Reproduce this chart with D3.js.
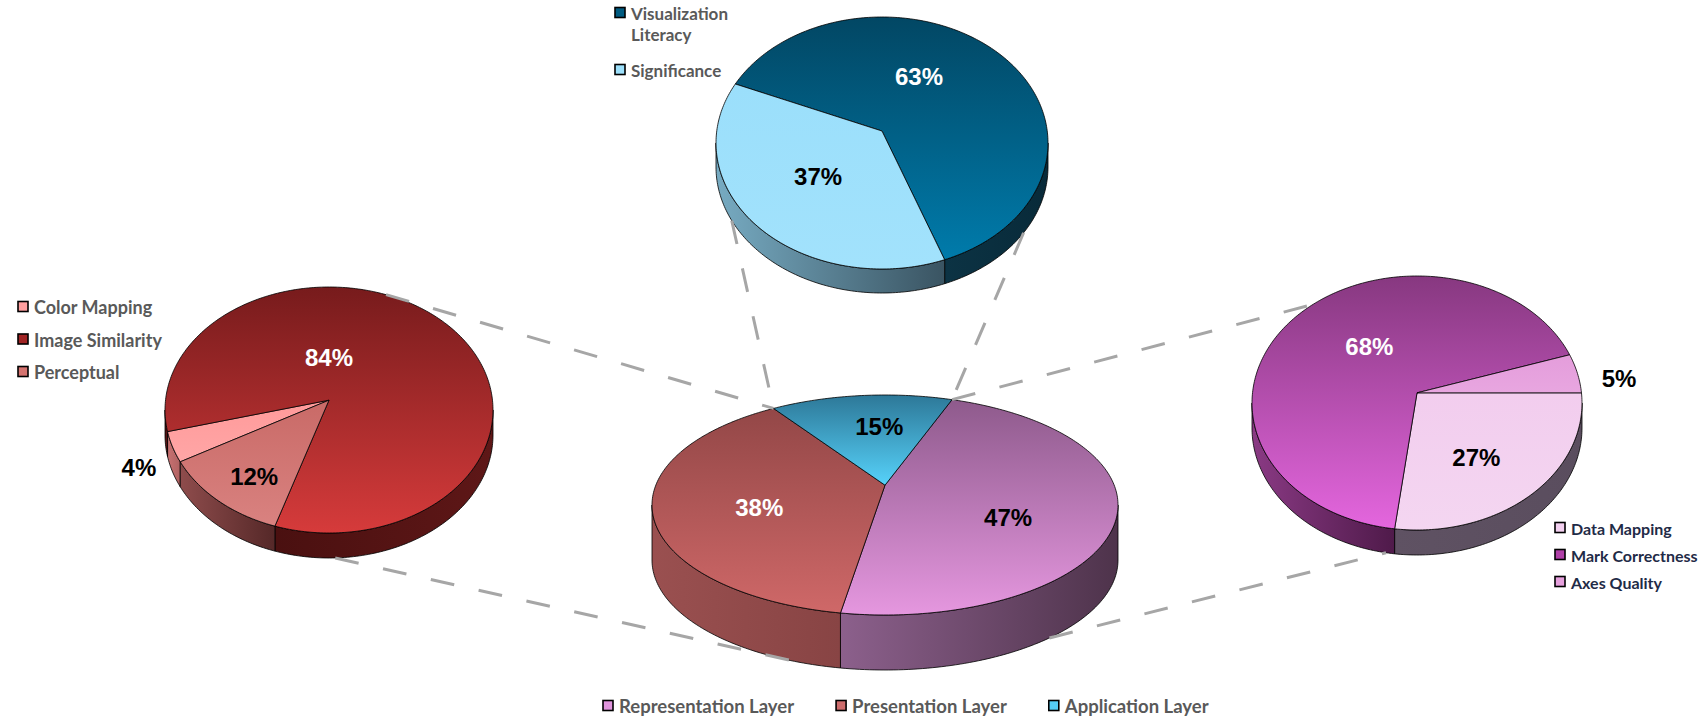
<!DOCTYPE html>
<html>
<head>
<meta charset="utf-8">
<script src="https://cdn.jsdelivr.net/npm/d3@7"></script>
<style>
  body { margin: 0; background: #fff; }
  svg { display: block; }
</style>
</head>
<body>
<div id="chart"></div>
<script>
// ---- data ----
const layerNames = ["Representation Layer", "Presentation Layer", "Application Layer"];
const layerValues = [47, 38, 15];

const presentationNames = ["Color Mapping", "Image Similarity", "Perceptual"];
const presentationValues = [4, 84, 12];

const applicationNames = ["Visualization Literacy", "Significance"];
const applicationValues = [63, 37];

const representationNames = ["Data Mapping", "Mark Correctness", "Axes Quality"];
const representationValues = [27, 68, 5];

// ---- layout ----
const W = 1706, H = 724;
const rad = d => d * Math.PI / 180;
const fmt = d3.format(".0%");

const svg = d3.select("#chart").append("svg")
    .attr("width", W)
    .attr("height", H);
const defs = svg.append("defs");

// e = perspective skew (apex sits above the ellipse centre), angles clockwise from 12 o'clock
const pies = {
  presentation: {
    names: presentationNames, values: presentationValues,
    cx: 329, cy: 410, rx: 164, ry: 123, depth: 25, e: -0.08, start: 241,
    top: [["#ff9a9a", "#ffa6a6"], ["#771b1c", "#d63b3b"], ["#c96a67", "#d98280"]],
    side: [["#c87272", "#b06262"], ["#4a1010", "#5e1717"], ["#8e4c4c", "#552828"]],
    swatch: ["#ff9f9f", "#a02424", "#d4736f"],
    labelColor: ["#000", "#fff", "#000"],
    labelAt: [[248, 1.25], [0, 0.43], [220, 0.71]]
  },
  application: {
    names: applicationNames, values: applicationValues,
    cx: 882, cy: 143, rx: 166, ry: 126, depth: 24, e: -0.095, start: 293,
    top: [["#024764", "#007bab"], ["#9bdffb", "#a2e2fc"]],
    side: [["#0c3344", "#082a39"], ["#77abc2", "#3a5462"]],
    swatch: ["#005b80", "#9de0fb"],
    labelColor: ["#fff", "#000"],
    labelAt: [[23, 0.57], [235, 0.47]]
  },
  layer: {
    names: layerNames, values: layerValues,
    cx: 885, cy: 505, rx: 233, ry: 110, depth: 55, e: -0.18, start: 20,
    top: [["#8e5a8c", "#e597df"], ["#934747", "#cf6868"], ["#2d7898", "#56d2fa"]],
    side: [["#8c608c", "#4e334b"], ["#9a5050", "#884444"], ["#2a6a86", "#1e5068"]],
    swatch: ["#e094dc", "#cd6c6c", "#55cdf5"],
    labelColor: ["#000", "#fff", "#000"],
    labelAt: [[102, 0.54], [268, 0.54], [358, 0.71]]
  },
  representation: {
    names: representationNames, values: representationValues,
    cx: 1417, cy: 403, rx: 165, ry: 127, depth: 25, e: -0.08, start: 90,
    top: [["#f2cdee", "#f4d6f1"], ["#873880", "#e466de"], ["#e49ddb", "#e8a6e0"]],
    side: [["#5f5263", "#5a4d5e"], ["#8a3a84", "#4f1a4a"], ["#a4609c", "#8a4c84"]],
    swatch: ["#f3d0f0", "#b040a8", "#e6a0dd"],
    labelColor: ["#000", "#fff", "#000"],
    labelAt: [[140, 0.56], [327, 0.53], [81, 1.24]]
  }
};

// connector lines: [pie, angle or slice edge, on bottom rim]
const connectors = [
  { from: ["presentation", 22, false], to: ["layer", { slice: 2, edge: "start" }, false] },
  { from: ["presentation", 178, true], to: ["layer", 199, true] },
  { from: ["application", 240, true], to: ["layer", { slice: 2, edge: "start" }, false] },
  { from: ["application", 126, true], to: ["layer", { slice: 2, edge: "end" }, false] },
  { from: ["layer", { slice: 2, edge: "end" }, false], to: ["representation", 318, false] },
  { from: ["layer", 142, true], to: ["representation", 190, true] }
];

// ---- helpers ----
function proj(p, a, r, down) {
  const u = r * Math.sin(a), v = -r * Math.cos(a);
  const D = 1 + p.e * v;
  return [p.cx + p.rx * u * Math.sqrt(1 - p.e * p.e) / D,
          p.cy + p.ry * (v + p.e) / D + (down ? p.depth : 0)];
}

function rim(p, a0, a1, down) {
  const n = Math.max(2, Math.ceil(Math.abs(a1 - a0) / rad(1)));
  return d3.range(n + 1).map(i => proj(p, a0 + (a1 - a0) * i / n, 1, down));
}

let gid = 0;
function grad(c0, c1, horizontal) {
  const id = "g" + (gid++);
  const g = defs.append("linearGradient").attr("id", id)
      .attr("x1", 0).attr("y1", 0)
      .attr("x2", horizontal ? 1 : 0).attr("y2", horizontal ? 0 : 1);
  g.append("stop").attr("offset", 0).attr("stop-color", c0);
  g.append("stop").attr("offset", 1).attr("stop-color", c1);
  return "url(#" + id + ")";
}

const line = d3.line();

function drawPie(p) {
  const total = d3.sum(p.values);
  p.arcs = d3.pie().sort(null)
      .startAngle(rad(p.start))
      .endAngle(rad(p.start) + 2 * Math.PI)(p.values);

  const g = svg.append("g");
  const f0 = Math.acos(p.e), f1 = 2 * Math.PI - f0;

  // outer wall, front half only
  p.arcs.forEach((d, i) => {
    for (let k = -1; k <= 2; k++) {
      const b0 = Math.max(d.startAngle, f0 + 2 * Math.PI * k);
      const b1 = Math.min(d.endAngle, f1 + 2 * Math.PI * k);
      if (b1 <= b0) continue;
      const pts = rim(p, b0, b1, false).concat(rim(p, b1, b0, true));
      g.append("path")
          .attr("d", line(pts) + "Z")
          .attr("fill", grad(p.side[i][0], p.side[i][1], true))
          .attr("stroke", "#000")
          .attr("stroke-width", 0.8)
          .attr("stroke-linejoin", "round");
    }
  });

  // top faces
  p.arcs.forEach((d, i) => {
    const pts = [proj(p, 0, 0, false)].concat(rim(p, d.startAngle, d.endAngle, false));
    g.append("path")
        .attr("d", line(pts) + "Z")
        .attr("fill", grad(p.top[i][0], p.top[i][1], false))
        .attr("stroke", "#000")
        .attr("stroke-width", 0.8)
        .attr("stroke-linejoin", "round");
  });

  p.labelG = svg.append("g");
  p.arcs.forEach((d, i) => {
    const [a, r] = p.labelAt[i];
    p.labelG.append("text")
        .attr("x", p.cx + r * p.rx * Math.sin(rad(a)))
        .attr("y", p.cy - r * p.ry * Math.cos(rad(a)))
        .attr("text-anchor", "middle")
        .attr("dominant-baseline", "central")
        .attr("font-family", "'Liberation Sans', Arial, sans-serif")
        .attr("font-weight", "bold")
        .attr("font-size", 24)
        .attr("fill", p.labelColor[i])
        .text(fmt(d.value / total));
  });
}

function endPoint(spec) {
  const p = pies[spec[0]];
  let a = spec[1];
  if (typeof a === "object") {
    const d = p.arcs[a.slice];
    a = a.edge === "start" ? d.startAngle : d.endAngle;
  } else {
    a = rad(a);
  }
  return proj(p, a, 1, spec[2]);
}

function legend(o) {
  const lineH = o.lineH || 0;
  const g = svg.append("g")
      .attr("font-family", o.font)
      .attr("font-weight", "bold")
      .attr("font-size", o.size)
      .attr("fill", o.color);
  let y = o.y, x = o.x;
  o.names.forEach((name, i) => {
    const words = o.wrap ? name.split(" ") : [name];
    g.append("rect")
        .attr("x", x - 16).attr("y", y - 5.5)
        .attr("width", 10).attr("height", 10)
        .attr("fill", o.colors[i])
        .attr("stroke", "#000")
        .attr("stroke-width", 1.6);
    const t = g.append("text").attr("x", x).attr("y", y).attr("dominant-baseline", "central");
    words.forEach((w, j) => {
      t.append("tspan").attr("x", x).attr("dy", j ? lineH : 0).text(w);
    });
    if (o.horizontal) {
      x += t.node().getComputedTextLength() + o.gap;
    } else {
      y += (words.length - 1) * lineH + o.step;
    }
  });
  return g;
}

// ---- draw ----
Object.values(pies).forEach(drawPie);

const conG = svg.append("g");
connectors.forEach(c => {
  conG.append("path")
      .attr("d", line([endPoint(c.from), endPoint(c.to)]))
      .attr("stroke", "#a6a6a6")
      .attr("stroke-width", 3)
      .attr("stroke-dasharray", "24,25")
      .attr("fill", "none");
});
// keep the percentage labels above the connectors
Object.values(pies).forEach(p => p.labelG.raise());

const legendFont = "Lato, 'Open Sans', sans-serif";
legend({ names: presentationNames, colors: pies.presentation.swatch,
         x: 34, y: 307, step: 32.5, size: 18, font: legendFont, color: "#595959" });
legend({ names: applicationNames, colors: pies.application.swatch, wrap: true,
         x: 631, y: 13, step: 36, lineH: 21, size: 17, font: legendFont, color: "#595959" });
legend({ names: representationNames, colors: pies.representation.swatch,
         x: 1571, y: 528, step: 27, size: 16, font: legendFont, color: "#1f2b47" });

legend({ names: layerNames, colors: pies.layer.swatch, horizontal: true,
         x: 619, y: 706, gap: 58, size: 18.5, font: legendFont, color: "#595959" });
</script>
</body>
</html>
